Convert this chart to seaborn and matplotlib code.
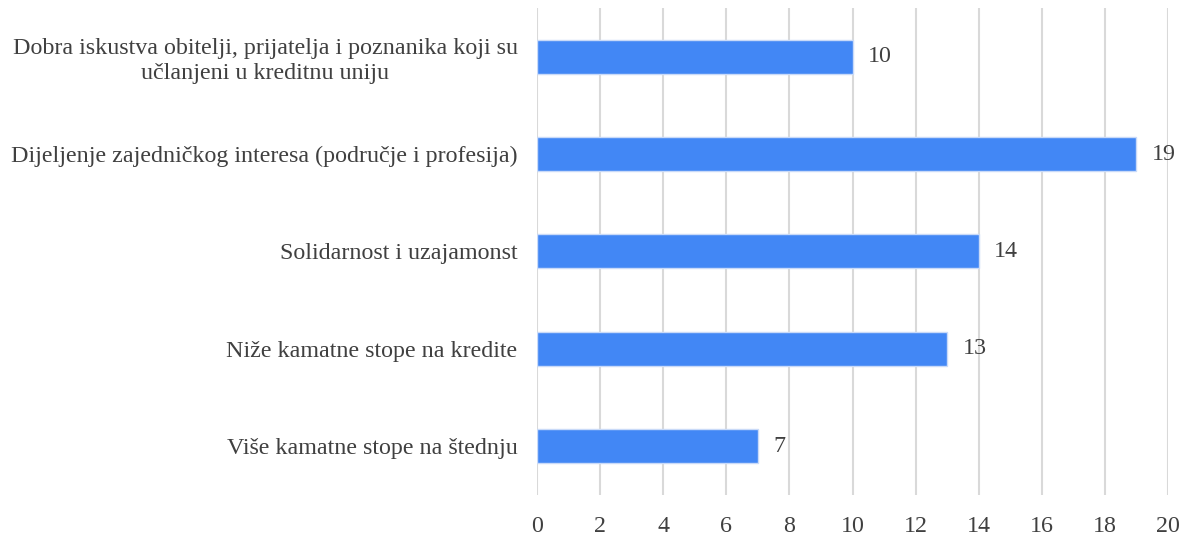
import pandas as pd
import matplotlib.pyplot as plt
import seaborn as sns

kategorije = [
    'Dobra iskustva obitelji, prijatelja i poznanika koji su\nučlanjeni u kreditnu uniju',
    'Dijeljenje zajedničkog interesa (područje i profesija)',
    'Solidarnost i uzajamonst',
    'Niže kamatne stope na kredite',
    'Više kamatne stope na štednju',
]
vrijednosti = [10, 19, 14, 13, 7]
x_ticks = [0, 2, 4, 6, 8, 10, 12, 14, 16, 18, 20]

sns.set_theme(style='white')
plt.rcParams['font.family'] = ['Liberation Serif', 'DejaVu Serif']
tekst = '#404040'
fs = 17.3

df = pd.DataFrame({'razlog': kategorije, 'broj': vrijednosti})

fig, ax = plt.subplots(figsize=(11.92, 5.35), dpi=100)
fig.subplots_adjust(left=0.4505, right=0.9799, top=0.985, bottom=0.075)

sns.barplot(data=df, x='broj', y='razlog', color='#4287F5', width=0.35,
            edgecolor='#C9DAF8', linewidth=1, saturation=1, ax=ax, zorder=3)

for i, v in enumerate(vrijednosti):
    ax.annotate(str(v), (v, i), xytext=(11, 0), textcoords='offset points',
                va='center', ha='left', fontsize=fs, color=tekst)

ax.set_xlim(0, 20)
ax.set_ylim(4.5, -0.5)
ax.set_xticks(x_ticks)
ax.grid(axis='x', color='#D9D9D9', linewidth=1.5, zorder=0)
ax.set_axisbelow(True)
for s in ax.spines.values():
    s.set_visible(False)
ax.tick_params(axis='both', length=0, labelsize=fs, labelcolor=tekst)
ax.tick_params(axis='x', pad=15)
ax.tick_params(axis='y', pad=14)
for lbl in ax.get_yticklabels():
    lbl.set_horizontalalignment('right')
    lbl.set_multialignment('center')
    lbl.set_linespacing(1.25)
ax.set_xlabel('')
ax.set_ylabel('')

plt.savefig('out.png', dpi=100)
plt.close()
